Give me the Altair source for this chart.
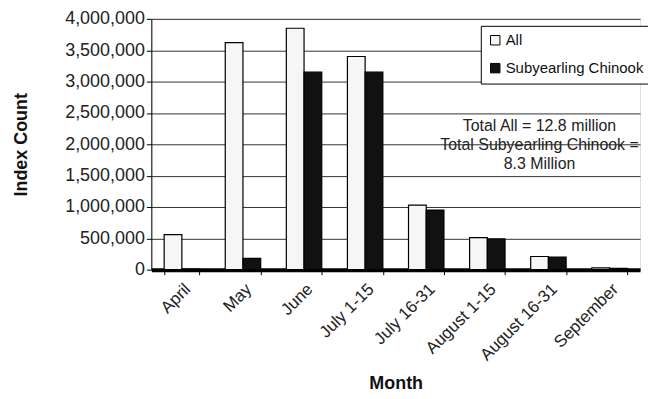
import altair as alt
import pandas as pd

months = ["April", "May", "June", "July 1-15", "July 16-31",
          "August 1-15", "August 16-31", "September"]
series_names = ["All", "Subyearling Chinook"]
all_counts = [560000, 3620000, 3850000, 3400000, 1030000, 510000, 210000, 30000]
sub_counts = [10000, 180000, 3150000, 3150000, 950000, 490000, 200000, 20000]
y_ticks = [0, 500000, 1000000, 1500000, 2000000, 2500000, 3000000, 3500000, 4000000]
annotation_lines = ["Total  All = 12.8 million", "Total Subyearling Chinook =", "8.3 Million"]

rows = []
for m, a, s in zip(months, all_counts, sub_counts):
    rows.append({"Month": m, "Series": series_names[0], "Count": a})
    rows.append({"Month": m, "Series": series_names[1], "Count": s})
df = pd.DataFrame(rows)

FONT = "Liberation Sans"

bars = alt.Chart(df).mark_bar(stroke="black", strokeWidth=1.2, xOffset=7, x2Offset=7).encode(
    x=alt.X("Month:N", sort=months,
            scale=alt.Scale(paddingInner=0.42, paddingOuter=0.21),
            axis=alt.Axis(title="Month", labelAngle=-45, labelFontSize=17,
                          labelFont=FONT, labelColor="#222", tickBand="extent",
                          tickSize=5, tickColor="black", labelPadding=6,
                          domainColor="black", domainWidth=4,
                          titleFont=FONT, titleFontSize=18, titleFontWeight="bold",
                          titlePadding=12, titleColor="#111")),
    xOffset=alt.XOffset("Series:N", sort=series_names),
    y=alt.Y("Count:Q", scale=alt.Scale(domain=[0, 4000000], nice=False),
            axis=alt.Axis(title="Index Count", values=y_ticks, format=",d",
                          labelFontSize=18, labelFont=FONT, labelColor="#222",
                          tickSize=5, tickColor="black", labelPadding=2,
                          domainColor="black", gridColor="#333", gridWidth=1,
                          titleFont=FONT, titleFontSize=18, titleFontWeight="bold",
                          titlePadding=34, titleColor="#111")),
    fill=alt.Fill("Series:N", sort=series_names,
                  scale=alt.Scale(domain=series_names, range=["#f6f6f6", "#111111"]),
                  legend=alt.Legend(title=None, orient="none", legendX=331, legendY=7,
                                    labelFont=FONT, labelFontSize=15, labelColor="#111",
                                    symbolType="square", symbolSize=90,
                                    symbolStrokeColor="black", symbolStrokeWidth=1,
                                    strokeColor="black", fillColor="white",
                                    padding=7, rowPadding=12, labelOffset=3)),
)

note = alt.Chart(pd.DataFrame({"t": ["\n".join(annotation_lines)]})).mark_text(
    font=FONT, fontSize=16, color="#222", align="center", baseline="top",
    lineBreak="\n", lineHeight=19,
).encode(x=alt.value(390), y=alt.value(100), text="t:N")

chart = alt.layer(bars, note).properties(
    width=491, height=252,
    autosize=alt.AutoSizeParams(type="none"),
    padding={"left": 144, "top": 10, "right": 8, "bottom": 127},
).configure_view(
    stroke="black", strokeWidth=1
).configure(background="white")

chart.save("out.html", embed_options={"renderer": "svg", "actions": False})
